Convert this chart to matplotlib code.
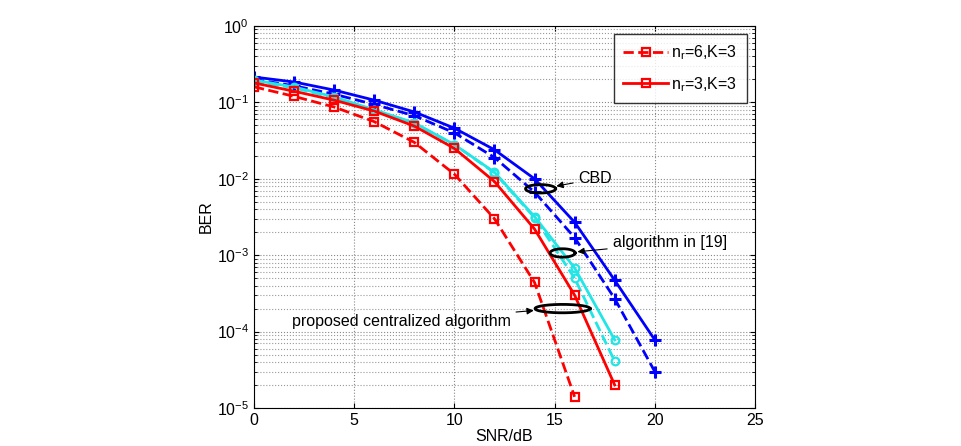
import numpy as np
import matplotlib.pyplot as plt

plt.rcParams['font.family'] = ['Liberation Sans', 'DejaVu Sans']

# SNR points (dB)
snr_a = [0, 2, 4, 6, 8, 10, 12, 14, 16]
snr_b = [0, 2, 4, 6, 8, 10, 12, 14, 16, 18]
snr_c = [0, 2, 4, 6, 8, 10, 12, 14, 16, 18, 20]

# proposed centralized algorithm (red)
ber_prop_nr6 = [0.16, 0.12, 0.087, 0.056, 0.030, 0.0115, 0.0030, 4.4e-4, 1.4e-5]
ber_prop_nr3 = [0.18, 0.14, 0.107, 0.077, 0.049, 0.025, 0.0092, 0.0022, 3.0e-4, 2.0e-5]

# algorithm in [19] (cyan)
ber_alg19_nr6 = [0.19, 0.155, 0.115, 0.079, 0.053, 0.028, 0.0120, 0.0031, 5.0e-4, 4.1e-5]
ber_alg19_nr3 = [0.196, 0.159, 0.118, 0.080, 0.054, 0.028, 0.0122, 0.0032, 6.8e-4, 7.8e-5]

# CBD (blue)
ber_cbd_nr6 = [0.20, 0.165, 0.128, 0.094, 0.067, 0.040, 0.019, 0.0067, 0.0017, 2.7e-4, 3.0e-5]
ber_cbd_nr3 = [0.215, 0.185, 0.145, 0.107, 0.075, 0.046, 0.024, 0.010, 0.0027, 4.7e-4, 7.8e-5]

FS = 11.5

fig = plt.figure(figsize=(9.61, 4.46), dpi=100)
ax = fig.add_axes([0.2643, 0.0852, 0.5213, 0.8565])

mk = dict(markersize=5.5, markerfacecolor='none', markeredgewidth=1.6, linewidth=2)
pk = dict(marker='+', markersize=9, markeredgewidth=2.2, linewidth=2)

ax.plot(snr_c, ber_cbd_nr3, '-', color='#0000ff', **pk)
ax.plot(snr_c, ber_cbd_nr6, '--', color='#0000ff', **pk)
ax.plot(snr_b, ber_alg19_nr6, '--', color='#22e5e5', marker='o', **mk)
ax.plot(snr_b, ber_alg19_nr3, '-', color='#22e5e5', marker='o', **mk)
l1, = ax.plot(snr_a, ber_prop_nr6, '--', color='#ff0000', marker='s', **mk)
l2, = ax.plot(snr_b, ber_prop_nr3, '-', color='#ff0000', marker='s', **mk)

ax.set_yscale('log')
ax.set_xlim(0, 25)
ax.set_ylim(1e-5, 1)
ax.set_xticks([0, 5, 10, 15, 20, 25])
ax.grid(True, which='major', linestyle=':', color='#888888', linewidth=0.8)
ax.grid(True, which='minor', axis='y', linestyle=':', color='#999999', linewidth=0.8)
ax.tick_params(which='both', direction='in', top=True, right=True, labelsize=FS)
ax.set_xlabel('SNR/dB', fontsize=FS, labelpad=1)
ax.set_ylabel('BER', fontsize=FS, labelpad=2)

leg = ax.legend([l1, l2], ['n$_\\mathregular{r}$=6,K=3', 'n$_\\mathregular{r}$=3,K=3'],
                loc='upper right', fontsize=FS, fancybox=False, edgecolor='black',
                handlelength=2.8, borderpad=0.6, labelspacing=0.8, handletextpad=0.2)
leg.get_frame().set_linewidth(1.0)


def ring(cx, cy, w, h_dec):
    t = np.linspace(0, 2 * np.pi, 200)
    ax.plot(cx + w / 2 * np.cos(t), 10 ** (np.log10(cy) + h_dec / 2 * np.sin(t)),
            color='black', linewidth=2)


ring(14.3, 7.4e-3, 1.5, 0.11)
ring(15.4, 1.07e-3, 1.25, 0.11)
ring(15.4, 2.0e-4, 2.75, 0.11)

arrow = dict(arrowstyle='-|>', color='black', linewidth=0.8, mutation_scale=10)
ax.annotate('CBD', xy=(14.95, 7.9e-3), xytext=(16.2, 1.0e-2), fontsize=FS,
            va='center', ha='left', arrowprops=arrow)
ax.annotate('algorithm in [19]', xy=(16.0, 1.1e-3), xytext=(17.9, 1.45e-3), fontsize=FS,
            va='center', ha='left', arrowprops=arrow)
ax.annotate('proposed centralized algorithm', xy=(14.1, 1.9e-4), xytext=(12.8, 1.35e-4),
            fontsize=FS, va='center', ha='right', arrowprops=arrow)

fig.savefig('out.png', dpi=100)
